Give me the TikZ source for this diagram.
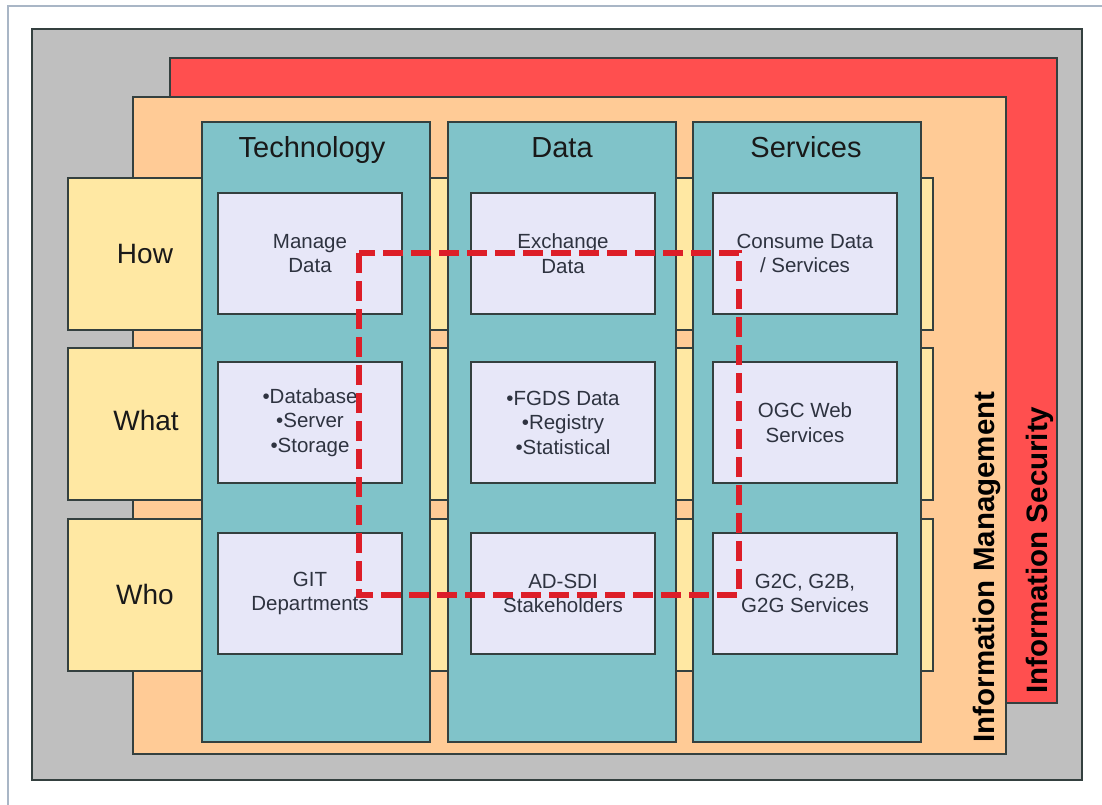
\documentclass[tikz,border=0pt]{standalone}
\usepackage{fontspec}
\setmainfont{Liberation Sans}
\definecolor{framec}{HTML}{A9B6C6}
\definecolor{greyc}{HTML}{BFBFBF}
\definecolor{redc}{HTML}{FF4F4F}
\definecolor{peachc}{HTML}{FFCB96}
\definecolor{yellowc}{HTML}{FFE8A3}
\definecolor{tealc}{HTML}{80C3C9}
\definecolor{lavc}{HTML}{E7E7F8}
\definecolor{edgec}{HTML}{34403F}
\definecolor{txtc}{HTML}{2E3340}
\definecolor{dashc}{HTML}{DD1E28}
\tikzset{
  panel/.style={draw=edgec, line width=1.5pt, anchor=north west, inner sep=0pt, outer sep=0pt},
  greypanel/.style={panel, fill=greyc, minimum width=1050pt, minimum height=751pt},
  redpanel/.style={panel, fill=redc, minimum width=887pt, minimum height=645pt},
  peachpanel/.style={panel, fill=peachc, minimum width=873pt, minimum height=657pt},
  rowband/.style={panel, fill=yellowc, minimum width=865pt, minimum height=152pt},
  column/.style={panel, fill=tealc, minimum width=228pt, minimum height=620pt},
  cell/.style={panel, fill=lavc, minimum width=184pt, minimum height=121pt},
  celltext/.style={text=txtc, align=center, font=\fontsize{20.5}{24.5}\selectfont},
  heading/.style={text=black!90, anchor=base, font=\fontsize{29}{33}\selectfont},
  rowlabel/.style={text=black!90, anchor=base, font=\fontsize{28}{32}\selectfont},
  sidelabel/.style={text=black, rotate=90, font=\bfseries\fontsize{29.5}{33}\selectfont},
  dashbox/.style={draw=dashc, line width=6pt, dash pattern=on 20pt off 8pt},
}
\begin{document}
\begin{tikzpicture}[x=1pt, y=-1pt]
\useasboundingbox (0,0) rectangle (1102,804);
\fill[white] (0,0) rectangle (1102,804);
% thin outer frame
\draw[framec, line width=2pt] (8,812) -- (8,6) -- (1110,6);

% nested layers
\node[greypanel]  (grey)  at (32,29) {};
\node[redpanel]   (sec)   at (170,58) {};
\node[peachpanel] (mgmt)  at (133,97) {};

% row bands
\node[rowband] (rhow)  at (68,178) {};
\node[rowband] (rwhat) at (68,348) {};
\node[rowband] (rwho)  at (68,519) {};

% columns
\node[column] (ctech) at (202,122) {};
\node[column] (cdata) at (448,122) {};
\node[column] (cserv) at (693,122) {};

% cells
\node[cell] (t1) at (218,193) {};
\node[cell] (t2) at (218,362) {};
\node[cell] (t3) at (218,533) {};
\node[cell] (d1) at (471,193) {};
\node[cell] (d2) at (471,362) {};
\node[cell] (d3) at (471,533) {};
\node[cell] (s1) at (713,193) {};
\node[cell] (s2) at (713,362) {};
\node[cell] (s3) at (713,533) {};

% headings
\node[heading] (htech) at (312,157) {Technology};
\node[heading] (hdata) at (562,157) {Data};
\node[heading] (hserv) at (806,157) {Services};

% row labels
\node[rowlabel] (lhow)  at (145,263) {How};
\node[rowlabel] (lwhat) at (146,430) {What};
\node[rowlabel] (lwho)  at (145,604) {Who};

% cell texts
\node[celltext] at (t1.center) {Manage\\Data};
\node[celltext] at (t2.center) {•Database\\•Server\\•Storage};
\node[celltext] at (t3.center) {GIT\\Departments};
\node[celltext] at (d1.center) {Exchange\\Data};
\node[celltext] at (d2.center) {•FGDS Data\\•Registry\\•Statistical};
\node[celltext] at (d3.center) {AD-SDI\\Stakeholders};
\node[celltext] at (s1.center) {Consume Data\\/ Services};
\node[celltext] at (s2.center) {OGC Web\\Services};
\node[celltext] at (s3.center) {G2C, G2B,\\G2G Services};

% side labels
\node[sidelabel] (lmgmt) at (987,567) {Information Management};
\node[sidelabel] (lsec)  at (1040,550) {Information Security};

% highlighted region
\coordinate (hlA) at (359,253);
\coordinate (hlB) at (739,595);
\draw[dashbox] (hlA) rectangle (hlB);
\end{tikzpicture}
\end{document}
